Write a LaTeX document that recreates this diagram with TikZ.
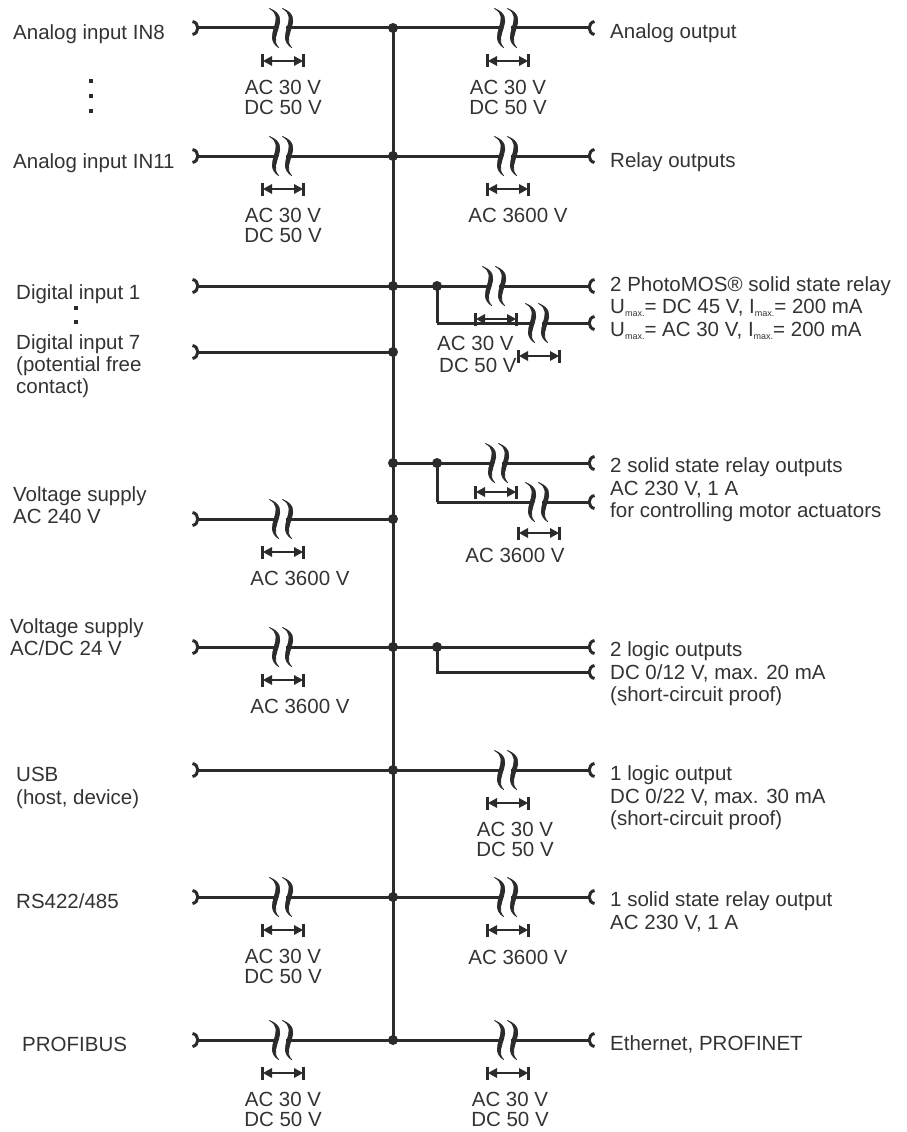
\documentclass[tikz,border=0pt]{standalone}
\usepackage{fontspec}
\setmainfont{Liberation Sans}
\usetikzlibrary{calc}
\definecolor{ln}{HTML}{2B2B2B}
\definecolor{tx}{HTML}{333333}
\newcommand\sbx[1]{\raisebox{-3.5pt}{\fontsize{9}{9}\selectfont #1}}
\tikzset{
  wire/.style={draw=ln, line width=3pt},
  lt/.style={text=tx, font=\fontsize{20.5}{22.5}\selectfont, inner sep=0pt, anchor=base west},
  lc/.style={text=tx, font=\fontsize{20.5}{22.5}\selectfont, inner sep=0pt, anchor=base},
  iso/.pic={
    \foreach \s in {-6.5,6.5}{
      \filldraw[ln, line width=0.8pt, line join=round] (\s-4,-19.5) .. controls (\s+14,-10) and (\s-12,8) .. (\s+5,19.5)
                .. controls (\s-6.5,8) and (\s+19.5,-10) .. cycle;
    }
  },
  isoarr/.pic={
    \draw[ln, line width=1.8pt] (-14,0) -- (14,0);
    \fill[ln] (-20,0) -- (-11,-5) -- (-11,5) -- cycle;
    \fill[ln] (20,0) -- (11,-5) -- (11,5) -- cycle;
    \draw[ln, line width=2.8pt] (-20.5,-6.5) -- (-20.5,6.5);
    \draw[ln, line width=2.8pt] (20.5,-6.5) -- (20.5,6.5);
  },
  lterm/.pic={\draw[ln, line width=3pt] (-5.5,-6.5) .. controls (1.5,-5.5) and (1.5,5.5) .. (-5.5,6.5);},
  rterm/.pic={\draw[ln, line width=3pt] (5.5,-6.5) .. controls (-1.5,-5.5) and (-1.5,5.5) .. (5.5,6.5);},
}
\newcommand\isosym[1]{\pic at (#1) {iso}; \pic at ($(#1)+(3,33)$) {isoarr};}
\newcommand\isobreak[3]{\draw[wire] (#1) -- ($(#2)+(-6,0)$); \draw[wire] ($(#2)+(6,0)$) -- (#3);}
\begin{document}
\begin{tikzpicture}[x=1pt,y=-1pt]
\useasboundingbox (0,0) rectangle (907,1132);
% ---------- coordinates ----------
\foreach \n/\y in {1/28,2/156,3/286,4/352,5/463,6/519,7/647,8/770,9/897,10/1040}{
  \coordinate (B\n) at (393,\y);
}
\foreach \n/\y in {1/28,2/156,3/286,4/352,6/519,7/647,8/770,9/897,10/1040}{
  \coordinate (L\n) at (198,\y);
}
\foreach \n/\y in {1/28,2/156,3/286,3b/323,5/463,5b/502,7/647,7b/672,8/770,9/897,10/1040}{
  \coordinate (R\n) at (589,\y);
}
\coordinate (J3) at (437,286); \coordinate (J3b) at (437,323);
\coordinate (J5) at (437,463); \coordinate (J5b) at (437,502);
\coordinate (J7) at (437,647); \coordinate (J7b) at (437,672);
\foreach \n/\y in {1/28,2/156,6/519,7/647,9/897,10/1040}{\coordinate (IL\n) at (280,\y);}
\foreach \n/\y in {1/28,2/156,8/770,9/897,10/1040}{\coordinate (IR\n) at (505,\y);}
\coordinate (IR3) at (493,286); \coordinate (IR3b) at (536,323);
\coordinate (IR5) at (496,463); \coordinate (IR5b) at (536,502);
% ---------- bus ----------
\draw[wire] (B1) -- (B10);
% ---------- left side ----------
\foreach \n in {1,2,6,7,9,10}{\isobreak{L\n}{IL\n}{B\n}}
\foreach \n in {3,4,8}{\draw[wire] (L\n) -- (B\n);}
\foreach \n in {1,2,3,4,6,7,8,9,10}{\pic at (L\n) {lterm};}
\foreach \n in {1,2,6,7,9,10}{\isosym{IL\n}}
% ---------- right side ----------
\foreach \n in {1,2,8,9,10}{\isobreak{B\n}{IR\n}{R\n}\isosym{IR\n}}
\draw[wire] (B3) -- (J3); \isobreak{J3}{IR3}{R3} \isosym{IR3}
\draw[wire] (J3) -- (J3b); \isobreak{J3b}{IR3b}{R3b} \isosym{IR3b}
\draw[wire] (B5) -- (J5); \isobreak{J5}{IR5}{R5} \pic at ($(IR5)+(0,29)$) {isoarr}; \pic at (IR5) {iso};
\draw[wire] (J5) -- (J5b); \isobreak{J5b}{IR5b}{R5b} \pic at (IR5b) {iso}; \pic at ($(IR5b)+(3,31)$) {isoarr};
\draw[wire] (B7) -- (J7) -- (R7);
\draw[wire] (J7) -- (J7b) -- (R7b);
\foreach \n in {1,2,3,3b,5,5b,7,7b,8,9,10}{\pic at (R\n) {rterm};}
% ---------- dots ----------
\foreach \n in {1,2,3,4,5,6,7,8,9,10}{\fill[ln] (B\n) circle (5);}
\foreach \n in {J3,J5,J7}{\fill[ln] (\n) circle (5);}
\foreach \y in {81,96,111}{\fill[ln] (89,\y-2) rectangle (93,\y+2);}
\foreach \y in {308,322}{\fill[ln] (74,\y-2) rectangle (78,\y+2);}
% ---------- left texts ----------
\node[lt] (t1) at (13,40) {Analog input IN8};
\node[lt] (t2) at (13,168) {Analog input IN11};
\node[lt] (t3) at (16,299) {Digital input 1};
\node[lt] (t4a) at (16,349) {Digital input 7};
\node[lt] (t4b) at (16,371) {(potential free};
\node[lt] (t4c) at (16,393) {contact)};
\node[lt] (t6a) at (13,501) {Voltage supply};
\node[lt] (t6b) at (13,523) {AC 240 V};
\node[lt] (t7a) at (10,633) {Voltage supply};
\node[lt] (t7b) at (10,655) {AC/DC 24 V};
\node[lt] (t8a) at (16,781) {USB};
\node[lt] (t8b) at (16,804) {(host, device)};
\node[lt] (t9) at (16,908) {RS422/485};
\node[lt] (t10) at (22,1051) {PROFIBUS};
% ---------- right texts ----------
\node[lt] (r1) at (610,39) {Analog output};
\node[lt] (r2) at (610,167) {Relay outputs};
\node[lt] (r3a) at (610,291) {2 PhotoMOS® solid state relay};
\node[lt] (r3b) at (610,313) {U\sbx{max.}= DC 45 V, I\sbx{max.}= 200 mA};
\node[lt] (r3c) at (610,336) {U\sbx{max.}= AC 30 V, I\sbx{max.}= 200 mA};
\node[lt] (r5a) at (610,472) {2 solid state relay outputs};
\node[lt] (r5b) at (610,495) {AC 230 V, 1 A};
\node[lt] (r5c) at (610,517) {for controlling motor actuators};
\node[lt] (r7a) at (610,656) {2 logic outputs};
\node[lt] (r7b) at (610,679) {DC 0/12 V, max. 20 mA};
\node[lt] (r7c) at (610,701) {(short-circuit proof)};
\node[lt] (r8a) at (610,780) {1 logic output};
\node[lt] (r8b) at (610,803) {DC 0/22 V, max. 30 mA};
\node[lt] (r8c) at (610,825) {(short-circuit proof)};
\node[lt] (r9a) at (610,906) {1 solid state relay output};
\node[lt] (r9b) at (610,929) {AC 230 V, 1 A};
\node[lt] (r10) at (610,1050) {Ethernet, PROFINET};
% ---------- isolation labels ----------
\node[lc] (a1l) at (283,94) {AC 30 V};   \node[lc] (d1l) at (283,114) {DC 50 V};
\node[lc] (a1r) at (508,94) {AC 30 V};   \node[lc] (d1r) at (508,114) {DC 50 V};
\node[lc] (a2l) at (283,222) {AC 30 V};  \node[lc] (d2l) at (283,242) {DC 50 V};
\node[lc] (a2r) at (518,222) {AC 3600 V};
\node[lt] (a3) at (437,350) {AC 30 V};   \node[lt] (d3) at (439,372) {DC 50 V};
\node[lc] (a5) at (515,562) {AC 3600 V};
\node[lc] (a6) at (300,585) {AC 3600 V};
\node[lc] (a7) at (300,713) {AC 3600 V};
\node[lc] (a8) at (515,836) {AC 30 V};   \node[lc] (d8) at (515,856) {DC 50 V};
\node[lc] (a9l) at (283,963) {AC 30 V};  \node[lc] (d9l) at (283,983) {DC 50 V};
\node[lc] (a9r) at (518,964) {AC 3600 V};
\node[lc] (a10l) at (283,1106) {AC 30 V}; \node[lc] (d10l) at (283,1126) {DC 50 V};
\node[lc] (a10r) at (510,1106) {AC 30 V}; \node[lc] (d10r) at (510,1126) {DC 50 V};
\end{tikzpicture}
\end{document}
